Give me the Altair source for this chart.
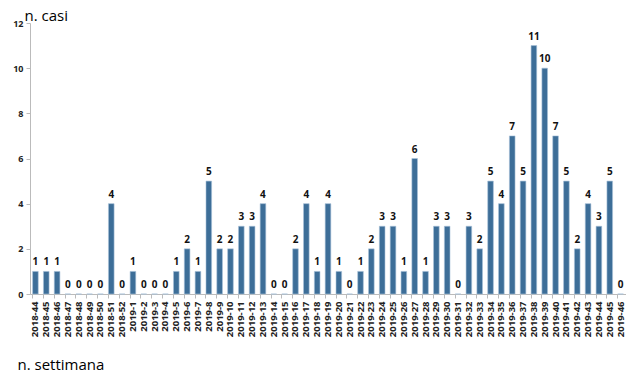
import altair as alt
import pandas as pd

weeks_2018 = ["2018-44", "2018-45", "2018-46", "2018-47", "2018-48", "2018-49", "2018-50", "2018-51", "2018-52"]
weeks_2019 = [f"2019-{i}" for i in range(1, 47)]
weeks = weeks_2018 + weeks_2019

cases = [1, 1, 1, 0, 0, 0, 0, 4, 0,
         1, 0, 0, 0, 1, 2, 1, 5, 2, 2, 3, 3, 4, 0, 0, 2, 4, 1, 4, 1, 0,
         1, 2, 3, 3, 1, 6, 1, 3, 3, 0, 3, 2, 5, 4, 7, 5, 11, 10, 7, 5,
         2, 4, 3, 5, 0]

df = pd.DataFrame({"week": weeks, "cases": cases})

FONT = "Open Sans"

x = alt.X("week:N", sort=weeks,
          scale=alt.Scale(paddingInner=0.48, paddingOuter=0.24),
          axis=alt.Axis(title="n. settimana", titleAngle=0, titleX=-13, titleY=75,
                        titleAlign="left", titleBaseline="alphabetic",
                        titleFontSize=15, titleFontWeight="normal", titleFont=FONT,
                        titleColor="#000000",
                        labelAngle=-90, labelFontSize=9.5, labelFontWeight="bold",
                        labelFont=FONT, labelColor="#222222", labelPadding=3,
                        domainColor="#bbbbbb", tickColor="#bbbbbb", tickSize=4,
                        bandPosition=0))
y = alt.Y("cases:Q",
          scale=alt.Scale(domain=[0, 12]),
          axis=alt.Axis(title="n. casi", titleAngle=0, titleX=-6, titleY=-3,
                        titleAlign="left", titleBaseline="alphabetic",
                        titleFontSize=15, titleFontWeight="normal", titleFont=FONT,
                        titleColor="#000000",
                        values=[0, 2, 4, 6, 8, 10, 12], grid=False,
                        labelFontSize=9, labelFontWeight="bold", labelFont=FONT,
                        labelColor="#222222", labelPadding=3,
                        domainColor="#bbbbbb", tickColor="#bbbbbb", tickSize=4))

bars = alt.Chart(df).mark_bar(color="#3D6E98", stroke="#A9C2DA", strokeWidth=0.6).encode(x=x, y=y)
labels = alt.Chart(df).mark_text(dy=-6, baseline="alphabetic", fontSize=10, fontWeight="bold",
                                 font=FONT, color="#111111").encode(x=x, y=y, text="cases:Q")

chart = (bars + labels).properties(
    width=596, height=271,
    autosize=alt.AutoSizeParams(type="none"),
    padding={"left": 22, "top": 15, "right": 0, "bottom": 79},
).configure_view(stroke=None)

chart.save("out.html", embed_options={"renderer": "svg", "actions": False})
